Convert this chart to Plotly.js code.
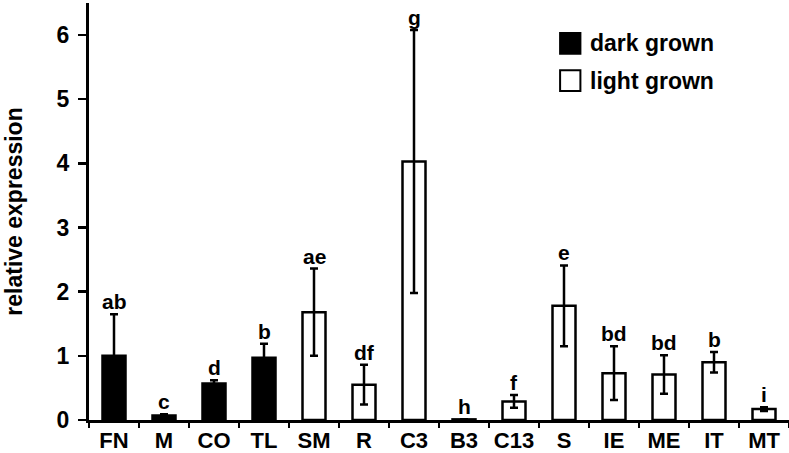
<!DOCTYPE html>
<html>
<head>
<meta charset="utf-8">
<script src="https://cdn.plot.ly/plotly-3.0.1.min.js"></script>
<style>
  html, body { margin: 0; padding: 0; background: #fff; }
  #chart { width: 789px; height: 453px; }
</style>
</head>
<body>
<div id="chart"></div>
<script>
// samples, grouped by growth condition
const darkSamples = ["FN", "M", "CO", "TL"];
const darkValues = [1.0, 0.07, 0.57, 0.97];
const darkErrors = [0.65, 0.02, 0.05, 0.22];
const darkLetters = ["ab", "c", "d", "b"];

const lightSamples = ["SM", "R", "C3", "B3", "C13", "S", "IE", "ME", "IT", "MT"];
const lightValues = [1.68, 0.55, 4.03, 0.01, 0.29, 1.78, 0.73, 0.71, 0.9, 0.17];
const lightErrors = [0.68, 0.31, 2.05, 0.0, 0.1, 0.63, 0.42, 0.3, 0.16, 0.03];
const lightLetters = ["ae", "df", "g", "h", "f", "e", "bd", "bd", "b", "i"];

const legendNames = ["dark grown", "light grown"];

const font = "Liberation Sans, Arial, sans-serif";
const ink = "#000";

function barTrace(name, x, y, err, fill) {
  return {
    type: "bar",
    name: name,
    x: x,
    y: y,
    width: 0.46,
    showlegend: false,
    marker: { color: fill, line: { color: ink, width: 2.5 } },
    error_y: {
      type: "data",
      array: err,
      visible: true,
      color: ink,
      thickness: 2.5,
      width: 4,
    },
  };
}

const traces = [
  barTrace(legendNames[0], darkSamples, darkValues, darkErrors, ink),
  barTrace(legendNames[1], lightSamples, lightValues, lightErrors, "#fff"),
];

// significance letters sit above each error bar
function letterNotes(x, y, err, letters) {
  return x.map((cat, i) => ({
    x: cat,
    y: y[i] + err[i],
    text: "<b>" + letters[i] + "</b>",
    showarrow: false,
    yanchor: "bottom",
    yshift: -1,
    font: { family: font, size: 21, color: ink },
  }));
}

// legend drawn by hand so the swatches can be as big as the original ones
const legendFills = [ink, "#fff"];
const legendShapes = legendNames.map((n, i) => ({
  type: "rect",
  xref: "paper",
  yref: "paper",
  x0: 0.673,
  x1: 0.702,
  y0: 0.878 - i * 0.089,
  y1: 0.928 - i * 0.089,
  fillcolor: legendFills[i],
  line: { color: ink, width: 2 },
}));
const legendNotes = legendNames.map((n, i) => ({
  xref: "paper",
  yref: "paper",
  x: 0.713,
  y: 0.903 - i * 0.089,
  xanchor: "left",
  yanchor: "middle",
  text: "<b>" + n + "</b>",
  showarrow: false,
  font: { family: font, size: 23, color: ink },
}));

const annotations = letterNotes(darkSamples, darkValues, darkErrors, darkLetters)
  .concat(letterNotes(lightSamples, lightValues, lightErrors, lightLetters))
  .concat(legendNotes);

const layout = {
  width: 789,
  height: 453,
  margin: { l: 89, r: 0, t: 3, b: 33 },
  paper_bgcolor: "#fff",
  plot_bgcolor: "#fff",
  barmode: "overlay",
  font: { family: font, size: 23, color: ink, weight: "bold" },
  xaxis: {
    type: "category",
    categoryorder: "array",
    categoryarray: darkSamples.concat(lightSamples),
    showline: true,
    linecolor: ink,
    linewidth: 3,
    ticks: "outside",
    tickson: "boundaries",
    ticklen: 5,
    tickwidth: 2.5,
    tickcolor: ink,
    tickangle: 0,
    ticklabelstandoff: -1,
    tickfont: { family: font, size: 22, weight: "bold" },
    showgrid: false,
    zeroline: false,
    fixedrange: true,
  },
  yaxis: {
    range: [0, 6.5],
    tickvals: [0, 1, 2, 3, 4, 5, 6],
    showline: true,
    linecolor: ink,
    linewidth: 3,
    ticks: "outside",
    ticklen: 8,
    tickwidth: 2.5,
    tickcolor: ink,
    ticklabelstandoff: 4,
    tickfont: { family: font, size: 23, weight: "bold" },
    showgrid: false,
    zeroline: false,
    title: {
      text: "relative expression",
      font: { family: font, size: 23, weight: "bold" },
      standoff: 28,
    },
    fixedrange: true,
  },
  shapes: legendShapes,
  annotations: annotations,
};

Plotly.newPlot("chart", traces, layout, { displayModeBar: false, staticPlot: true });
</script>
</body>
</html>
